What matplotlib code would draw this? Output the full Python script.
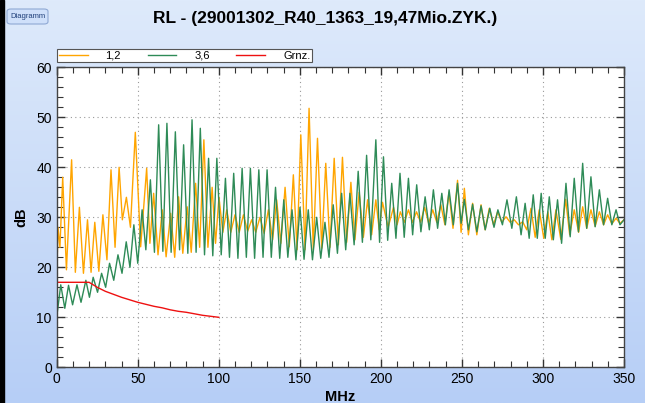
import numpy as np
import matplotlib.pyplot as plt
from matplotlib.patches import FancyBboxPatch, Rectangle
from matplotlib.ticker import MultipleLocator

plt.rcParams['font.family'] = ['Liberation Sans', 'DejaVu Sans']

# Werte (Spitzen / Taeler)
f_12 = [0.0, 0.8, 2.0, 3.7, 6.0, 9.2, 11.5, 14.0, 16.5, 19.0, 21.2, 23.5, 26.0, 28.5, 31.0,
        33.5, 36.0, 38.5, 40.5, 43.0, 45.5, 48.5, 51.8, 55.5, 57.5, 59.8, 62.5, 65.1, 67.5,
        70.3, 72.8, 75.2, 77.8, 80.5, 83.0, 85.7, 88.2, 90.8, 93.3, 95.9, 98.0, 100.1, 102.5,
        104.9, 107.4, 110.0, 112.6, 115.2, 117.8, 120.3, 122.8, 125.4, 128.0, 130.6, 133.2,
        135.7, 138.3, 140.9, 143.5, 146.0, 148.3, 150.6, 153.2, 155.7, 158.3, 160.9, 163.5,
        166.0, 168.6, 171.2, 173.8, 176.3, 178.9, 181.5, 184.0, 186.6, 189.2, 191.8, 194.3,
        196.9, 199.0, 201.0, 204.5, 207.8, 210.0, 212.0, 214.5, 217.0, 219.5, 222.0, 224.5,
        227.0, 229.5, 232.0, 234.5, 237.0, 239.5, 242.0, 244.5, 247.3, 249.5, 251.5, 254.0,
        256.6, 259.2, 261.8, 264.3, 266.9, 269.5, 272.0, 274.6, 277.2, 279.8, 282.3, 284.9,
        287.5, 290.0, 292.6, 295.2, 297.7, 300.5, 303.0, 305.5, 308.0, 311.0, 314.0, 316.5,
        319.3, 322.0, 324.5, 327.0, 329.6, 332.2, 334.8, 337.4, 339.9, 342.5, 345.1, 347.5, 350.0]
db_12 = [17.5, 28, 24, 38, 19.5, 41.5, 19, 32, 18.8, 29.5, 19, 29, 19.2, 30.5, 21.5,
         39.5, 24, 40, 29.5, 34, 28, 47, 24.1, 39.8, 24.8, 34.8, 22.5, 31.5, 22.1,
         30.8, 22, 34.1, 22.8, 32.1, 23, 36.8, 24, 45.5, 24, 36, 24.8, 34, 27,
         31.5, 27, 30.5, 27, 30.5, 27.2, 29.5, 27, 30, 26.8, 31.5, 25.5,
         33.5, 24.8, 36, 24.1, 38.5, 23.5, 46.5, 23.5, 51.8, 23.5, 45.8, 23.8,
         40.8, 24, 41.8, 24.5, 42, 25, 37, 25.5, 35, 26, 33.5, 26.5,
         33.5, 27.5, 33, 28, 32, 28.5, 31.1, 29, 31.5, 29, 31.1, 29,
         32, 28.8, 31.5, 29, 32.5, 28.5, 35, 27.8, 37.4, 27, 35.8, 26.5,
         32.8, 26.5, 32.5, 27.5, 31.8, 28.5, 31.1, 29, 30.1, 29, 29.5, 28.5,
         29.1, 27.5, 31.8, 26, 31.5, 25.8, 31.1, 25.5, 31.5, 25.6, 33.6, 26.5,
         31.5, 27, 32.1, 27.8, 31.5, 28.2, 31.1, 28.5, 30.5, 28.7, 29.8, 28.8, 29.5]

f_36 = [0.0, 2.5, 5.0, 7.3, 9.8, 12.5, 15.0, 18.0, 20.2, 22.5, 25.2, 27.7, 30.2, 32.6, 35.2,
        37.8, 40.3, 42.9, 45.2, 47.6, 50.0, 52.7, 55.0, 57.8, 60.3, 62.9, 65.5, 68.0, 70.6,
        73.2, 75.8, 78.3, 80.9, 83.5, 86.0, 88.6, 91.2, 93.7, 96.3, 98.8, 101.5, 104.1, 106.6,
        109.2, 111.8, 114.4, 117.0, 119.5, 122.1, 124.7, 127.3, 129.8, 132.4, 135.0, 137.6,
        140.1, 142.6, 145.2, 147.6, 150.1, 152.6, 155.2, 157.8, 160.4, 162.9, 165.5, 168.0,
        170.6, 173.2, 175.8, 178.3, 180.9, 183.5, 186.0, 188.6, 191.2, 193.8, 196.9, 199.2,
        201.6, 204.2, 206.7, 209.3, 211.8, 214.4, 217.0, 219.6, 222.1, 224.7, 227.3, 229.9,
        232.4, 235.0, 237.6, 239.8, 242.1, 244.7, 247.3, 249.5, 251.5, 254.0, 256.6, 259.2,
        261.8, 264.4, 267.2, 269.8, 272.2, 275.0, 277.8, 280.8, 283.6, 286.5, 289.0, 291.5,
        294.0, 296.5, 298.9, 301.4, 303.9, 306.4, 309.0, 311.5, 314.2, 316.8, 319.3, 321.9,
        324.5, 327.0, 329.6, 332.2, 334.8, 337.4, 339.9, 342.5, 345.1, 347.5, 350.0]
db_36 = [10, 16.5, 11.8, 16.4, 12.5, 16.5, 13, 17.4, 14, 18, 15, 18.8, 16, 20.8, 17.4,
         22.5, 18.8, 25.1, 20, 28.5, 20.8, 31.5, 23.5, 37.5, 23, 48.5, 23.2, 48.8, 23,
         47.1, 23.5, 44.5, 22.8, 49.5, 23, 47.8, 22.5, 41.8, 22.3, 41.8, 22.5, 37.8, 22,
         38.8, 21.8, 39.8, 22, 39.8, 21.8, 39.5, 22, 39.5, 22, 36, 21.8,
         33.5, 22, 31.5, 21.5, 32, 21.6, 31.5, 21.5, 30, 21.8, 29, 22,
         32.5, 22.8, 34.8, 23.5, 34.8, 24.5, 39.2, 25, 42.4, 25.5, 45.5, 25,
         42.1, 25.4, 36.8, 25.8, 38.8, 26, 37.8, 26.5, 36.5, 27.1, 34.1, 27.5,
         35.5, 27.8, 34.8, 28.5, 35.5, 28.5, 36.8, 28.8, 33.6, 27.5, 32.6, 27.1,
         32.3, 27.5, 31.8, 28, 31.5, 28.5, 33.5, 27.8, 34.1, 26.5, 32.8, 25.8,
         34.5, 25.8, 34.8, 25.8, 34.1, 25.5, 33.5, 24.8, 36.8, 26.1, 37.8, 27.1,
         40.8, 27.8, 38.1, 28.1, 35.5, 28.5, 33.8, 28.5, 31.5, 28.5, 29.5]

f_grenz = [0, 5, 10, 15, 20, 25, 30, 35, 40, 45, 50, 55, 60, 65, 70, 75, 80, 85, 90, 95, 100]
db_grenz = [17, 17, 17, 17, 17, 16.0, 15.2, 14.6, 14.0, 13.5, 13.0, 12.6, 12.2, 11.9,
            11.5, 11.2, 11.0, 10.7, 10.4, 10.2, 10.0]

fig = plt.figure(figsize=(6.45, 4.03), dpi=100)

# Hintergrund mit Farbverlauf
bg = fig.add_axes([0, 0, 1, 1], zorder=-10)
grad = np.linspace(0, 1, 256).reshape(-1, 1)
top = np.array([222, 234, 251]) / 255
bot = np.array([182, 206, 246]) / 255
img = top + (bot - top) * grad[:, :, None]
bg.imshow(img, aspect='auto', extent=[0, 1, 0, 1])
bg.set_xlim(0, 1)
bg.set_ylim(0, 1)
bg.axis('off')
bg.add_patch(Rectangle((0, 0), 4 / 645, 1, color='black'))

# Knopf "Diagramm"
bg.add_patch(FancyBboxPatch((7 / 645, 1 - 24 / 403), 41 / 645, 15 / 403,
                            boxstyle='round,pad=0,rounding_size=0.006',
                            facecolor='#cfe0fa', edgecolor='#8fa9d4', lw=0.8))
bg.text(27.5 / 645, 1 - 16.5 / 403, 'Diagramm', fontsize=5.5, color='#1f3f7a',
        ha='center', va='center')

ax = fig.add_axes([56.7 / 645, 1 - 367.3 / 403, (624 - 56.7) / 645, 300 / 403])
ax.set_facecolor('white')

l1, = ax.plot(f_12, db_12, color='#FFA500', lw=1.0, label='1,2')
l2, = ax.plot(f_36, db_36, color='#2E8B57', lw=1.0, label='3,6')
l3, = ax.plot(f_grenz, db_grenz, color='#EE1111', lw=1.0, label='Grnz.')

ax.set_xlim(0, 350)
ax.set_ylim(0, 60)
ax.xaxis.set_major_locator(MultipleLocator(50))
ax.xaxis.set_minor_locator(MultipleLocator(10))
ax.yaxis.set_major_locator(MultipleLocator(10))
ax.yaxis.set_minor_locator(MultipleLocator(2))
ax.tick_params(which='both', direction='in', top=True, right=True, colors='#333333',
               labelcolor='black', labelsize=10)
ax.tick_params(which='major', length=6, width=1.0)
ax.tick_params(which='minor', length=4, width=0.8)
ax.grid(True, which='major', linestyle=(0, (1, 3)), color='#999999', lw=0.8)
for s in ax.spines.values():
    s.set_color('#444444')
    s.set_linewidth(1.0)

ax.set_xlabel('MHz', fontsize=10.5, fontweight='bold', labelpad=3)
ax.set_ylabel('dB', fontsize=10.5, fontweight='bold', labelpad=6)

fig.text(325.5 / 645, 1 - 18 / 403, 'RL - (29001302_R40_1363_19,47Mio.ZYK.)',
         fontsize=12.5, fontweight='bold', ha='center', va='center')

leg = fig.legend(handles=[l1, l2, l3], loc='upper left', ncol=3,
                 bbox_to_anchor=(57 / 645, 1 - 49 / 403), fontsize=8,
                 frameon=True, fancybox=False, handlelength=2.6, columnspacing=2.4,
                 handletextpad=1.6, borderpad=0.15, borderaxespad=0)
leg.get_frame().set_edgecolor('#555555')
leg.get_frame().set_linewidth(0.8)
leg.get_frame().set_facecolor('white')
leg.get_frame().set_alpha(1)

fig.savefig('out.png', dpi=100)
